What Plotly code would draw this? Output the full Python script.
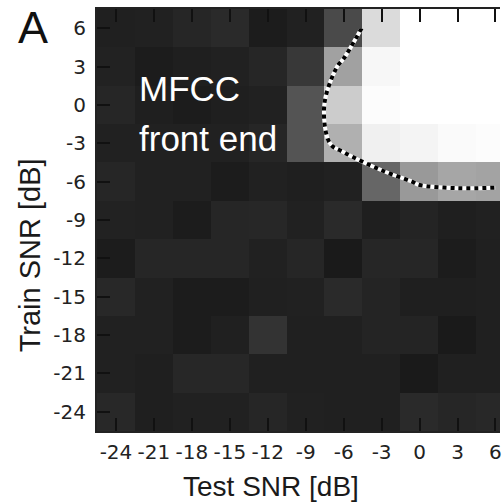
import plotly.graph_objects as go

test_snr = [-24, -21, -18, -15, -12, -9, -6, -3, 0, 3, 6]
train_snr = [6, 3, 0, -3, -6, -9, -12, -15, -18, -21, -24]

# normalised score per (train SNR row, test SNR column)
row_p6 = [0.125, 0.13, 0.15, 0.165, 0.11, 0.13, 0.29, 0.86, 1.0, 1.0, 1.0]
row_p3 = [0.135, 0.11, 0.12, 0.13, 0.15, 0.22, 0.63, 0.97, 1.0, 1.0, 1.0]
row_0 = [0.15, 0.12, 0.11, 0.12, 0.13, 0.33, 0.80, 0.99, 1.0, 1.0, 1.0]
row_m3 = [0.13, 0.13, 0.13, 0.13, 0.15, 0.33, 0.69, 0.94, 0.955, 0.98, 0.99]
row_m6 = [0.15, 0.13, 0.13, 0.11, 0.13, 0.12, 0.13, 0.40, 0.60, 0.65, 0.64]
row_m9 = [0.135, 0.13, 0.11, 0.15, 0.153, 0.13, 0.165, 0.12, 0.14, 0.12, 0.13]
row_m12 = [0.11, 0.15, 0.15, 0.15, 0.13, 0.15, 0.10, 0.15, 0.15, 0.11, 0.125]
row_m15 = [0.157, 0.13, 0.11, 0.11, 0.125, 0.13, 0.165, 0.14, 0.12, 0.12, 0.125]
row_m18 = [0.13, 0.13, 0.11, 0.125, 0.20, 0.125, 0.125, 0.14, 0.14, 0.10, 0.125]
row_m21 = [0.13, 0.12, 0.153, 0.153, 0.125, 0.125, 0.125, 0.125, 0.10, 0.125, 0.125]
row_m24 = [0.157, 0.12, 0.13, 0.13, 0.15, 0.13, 0.125, 0.125, 0.165, 0.15, 0.157]
scores = [row_p6, row_p3, row_0, row_m3, row_m6, row_m9, row_m12, row_m15,
          row_m18, row_m21, row_m24]

contour_level = 0.56
tick_vals = [-24, -21, -18, -15, -12, -9, -6, -3, 0, 3, 6]
tick_text = ["-24", "-21", "-18", "-15", "-12", "-9", "-6", "-3", "0", "3", "6"]

fig = go.Figure()
fig.add_trace(go.Heatmap(
    x=test_snr, y=train_snr, z=scores,
    colorscale=[[0, "#000000"], [1, "#ffffff"]], zmin=0, zmax=1,
    showscale=False, zsmooth=False, hoverinfo="skip"))
for col, dash in (("white", "solid"), ("black", "4px,4px")):
    fig.add_trace(go.Contour(
        x=test_snr, y=train_snr, z=scores, autocontour=False,
        contours=dict(start=contour_level, end=contour_level, size=0.1,
                      coloring="none", showlabels=False),
        line=dict(color=col, width=4, dash=dash, smoothing=1.0),
        showscale=False, hoverinfo="skip"))

W, H = 502, 504
L, T, B = 97, 9, 73
ph = H - T - B
pw = W - L

tick_font = dict(family="DejaVu Sans", size=20, color="#222222")
fig.update_xaxes(range=[-25.5, 6.36], tickvals=tick_vals, ticktext=tick_text,
                 ticks="inside", ticklen=13, tickwidth=2, tickcolor="#111111",
                 showline=True, linewidth=2, linecolor="#222222", mirror="ticks",
                 showgrid=False, zeroline=False, tickfont=tick_font,
                 ticklabelstandoff=2, ticklabeloverflow="allow")
fig.update_yaxes(range=[-25.5, 7.5], tickvals=tick_vals, ticktext=tick_text,
                 ticks="inside", ticklen=13, tickwidth=2, tickcolor="#111111",
                 showline=True, linewidth=2, linecolor="#222222", mirror=False,
                 showgrid=False, zeroline=False, tickfont=tick_font,
                 ticklabelstandoff=5)


def px(x):
    return (x - L) / pw


def py(y):
    return (H - B - y) / ph


ann_font = "Liberation Sans, Arial, sans-serif"
fig.update_layout(
    width=W, height=H, margin=dict(l=L, r=0, t=T, b=B),
    paper_bgcolor="white", plot_bgcolor="white", showlegend=False,
    hovermode=False,
    annotations=[
        dict(text="A", x=px(33), y=py(28), xref="paper", yref="paper",
             showarrow=False, xanchor="center", yanchor="middle",
             font=dict(family=ann_font, size=45, color="#111111")),
        dict(text="Test SNR [dB]", x=px(272), y=py(486), xref="paper", yref="paper",
             showarrow=False, xanchor="center", yanchor="middle",
             font=dict(family=ann_font, size=28, color="#1a1a1a")),
        dict(text="Train SNR [dB]", x=px(30), y=py(255), xref="paper", yref="paper",
             showarrow=False, xanchor="center", yanchor="middle", textangle=-90,
             font=dict(family=ann_font, size=29, color="#1a1a1a")),
        dict(text="MFCC", x=px(137), y=py(89), xref="paper", yref="paper",
             showarrow=False, xanchor="left", yanchor="middle",
             font=dict(family=ann_font, size=35, color="white")),
        dict(text="front end", x=px(137), y=py(139), xref="paper", yref="paper",
             showarrow=False, xanchor="left", yanchor="middle",
             font=dict(family=ann_font, size=35, color="white")),
    ])

# remove the browser's default 8px page margin so the figure fills the window
fig.write_html("out.html", config={"displayModeBar": False},
               post_script="document.body.style.margin='0';"
                           "document.body.style.overflow='hidden';")
